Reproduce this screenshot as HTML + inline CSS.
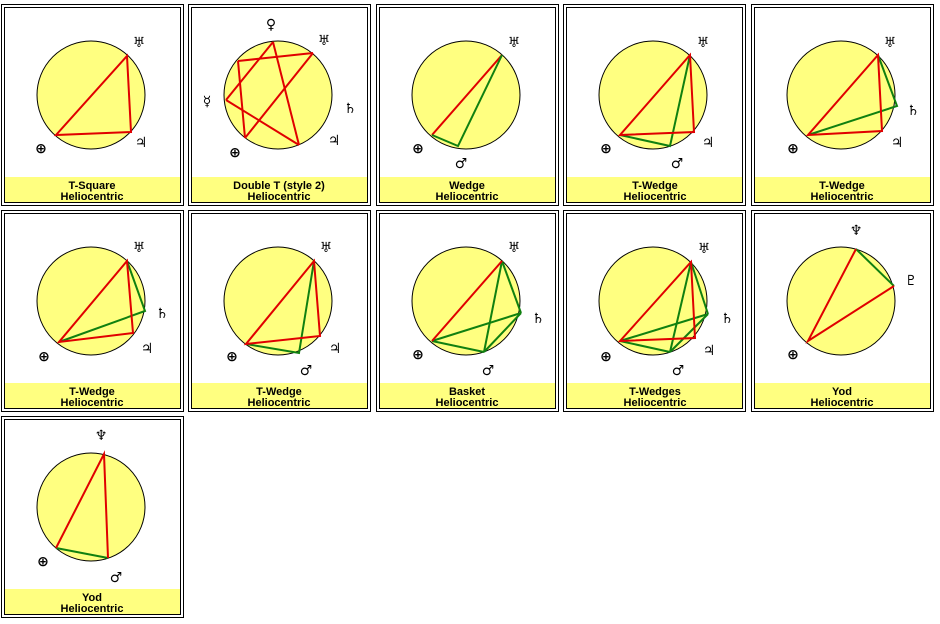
<!DOCTYPE html>
<html><head><meta charset="utf-8"><style>
html,body{margin:0;padding:0;background:#fff;}
svg{display:block;}
text{font-family:"DejaVu Sans","Liberation Sans",sans-serif;font-weight:bold;}
.lab{font-family:"Liberation Sans",sans-serif;font-size:11px;font-weight:bold;text-anchor:middle;fill:#000;}
.sym{font-size:14px;text-anchor:middle;fill:#000;}
.r{stroke:#e00000;stroke-width:2;fill:none;}
.g{stroke:#108010;stroke-width:2;fill:none;}
</style></head><body>
<svg width="940" height="624" viewBox="0 0 940 624" xmlns="http://www.w3.org/2000/svg">
<defs>
<g id="card">
<rect x="0.5" y="0.5" width="182" height="201" fill="#fff" stroke="#000" stroke-width="1"/>
<rect x="3.5" y="3.5" width="176" height="195" fill="#fff" stroke="#000" stroke-width="1"/>
<rect x="4" y="173" width="175" height="25" fill="#ffff80"/>
<circle cx="90" cy="91" r="54" fill="#ffff80" stroke="#000" stroke-width="1"/>
</g>
</defs>
<use href="#card" x="1" y="4"/><use href="#card" x="188" y="4"/><use href="#card" x="376" y="4"/><use href="#card" x="563" y="4"/><use href="#card" x="751" y="4"/>
<use href="#card" x="1" y="210"/><use href="#card" x="188" y="210"/><use href="#card" x="376" y="210"/><use href="#card" x="563" y="210"/><use href="#card" x="751" y="210"/>
<use href="#card" x="1" y="416"/>

<text class="lab" x="92" y="189">T-Square</text><text class="lab" x="92" y="200">Heliocentric</text>
<text class="lab" x="279" y="189">Double T  (style 2)</text><text class="lab" x="279" y="200">Heliocentric</text>
<text class="lab" x="467" y="189">Wedge</text><text class="lab" x="467" y="200">Heliocentric</text>
<text class="lab" x="655" y="189">T-Wedge</text><text class="lab" x="655" y="200">Heliocentric</text>
<text class="lab" x="842" y="189">T-Wedge</text><text class="lab" x="842" y="200">Heliocentric</text>
<text class="lab" x="92" y="395">T-Wedge</text><text class="lab" x="92" y="406">Heliocentric</text>
<text class="lab" x="279" y="395">T-Wedge</text><text class="lab" x="279" y="406">Heliocentric</text>
<text class="lab" x="467" y="395">Basket</text><text class="lab" x="467" y="406">Heliocentric</text>
<text class="lab" x="655" y="395">T-Wedges</text><text class="lab" x="655" y="406">Heliocentric</text>
<text class="lab" x="842" y="395">Yod</text><text class="lab" x="842" y="406">Heliocentric</text>
<text class="lab" x="92" y="601">Yod</text><text class="lab" x="92" y="612">Heliocentric</text>

<polygon class="r" points="127,56 131,132 56,135"/>
<text class="sym" x="139" y="47">♅</text><text class="sym" x="141" y="147">♃</text><text class="sym" x="41" y="153">⊕</text>

<g class="r">
<line x1="273" y1="42" x2="226" y2="100"/><line x1="273" y1="42" x2="299" y2="145"/>
<line x1="238" y1="61" x2="313" y2="53"/><line x1="313" y1="53" x2="245" y2="138"/>
<line x1="238" y1="61" x2="245" y2="138"/><line x1="226" y1="100" x2="299" y2="145"/>
</g>
<text class="sym" x="271" y="29">♀</text><text class="sym" x="324" y="45">♅</text><text class="sym" x="207" y="106">☿</text><text class="sym" x="350" y="113">♄</text><text class="sym" x="334" y="145">♃</text><text class="sym" x="235" y="157">⊕</text>

<line class="r" x1="502" y1="55" x2="432" y2="135"/>
<polyline class="g" points="502,55 458,146 432,135"/>
<text class="sym" x="514" y="47">♅</text><text class="sym" x="461" y="168">♂</text><text class="sym" x="418" y="153">⊕</text>

<polyline class="g" points="690,55 670,146 620,135"/>
<polygon class="r" points="690,55 694,132 620,135"/>
<text class="sym" x="703" y="47">♅</text><text class="sym" x="708" y="147">♃</text><text class="sym" x="677" y="168">♂</text><text class="sym" x="606" y="153">⊕</text>

<polyline class="g" points="878,55 897,106 808,135"/>
<polygon class="r" points="878,55 882,131 808,135"/>
<text class="sym" x="890" y="47">♅</text><text class="sym" x="913" y="115">♄</text><text class="sym" x="897" y="147">♃</text><text class="sym" x="793" y="153">⊕</text>

<polyline class="g" points="127,261 145,311 59,342"/>
<polygon class="r" points="127,261 133,333 59,342"/>
<text class="sym" x="139" y="252">♅</text><text class="sym" x="162" y="318">♄</text><text class="sym" x="147" y="353">♃</text><text class="sym" x="44" y="361">⊕</text>

<polyline class="g" points="314,261 299,353 246,344"/>
<polygon class="r" points="314,261 320,336 246,344"/>
<text class="sym" x="326" y="252">♅</text><text class="sym" x="335" y="353">♃</text><text class="sym" x="306" y="375">♂</text><text class="sym" x="232" y="361">⊕</text>

<g class="g">
<line x1="502" y1="261" x2="521" y2="313"/><line x1="502" y1="261" x2="484" y2="352"/>
<line x1="521" y1="313" x2="432" y2="341"/><line x1="521" y1="313" x2="484" y2="352"/>
<line x1="432" y1="341" x2="484" y2="352"/>
</g>
<line class="r" x1="502" y1="261" x2="432" y2="341"/>
<text class="sym" x="514" y="252">♅</text><text class="sym" x="538" y="323">♄</text><text class="sym" x="488" y="375">♂</text><text class="sym" x="418" y="359">⊕</text>

<g class="g">
<line x1="691" y1="262" x2="708" y2="314"/><line x1="691" y1="262" x2="670" y2="352"/>
<line x1="708" y1="314" x2="620" y2="341"/><line x1="708" y1="314" x2="670" y2="352"/>
<line x1="620" y1="341" x2="670" y2="352"/>
</g>
<polygon class="r" points="691,262 695,338 620,341"/>
<text class="sym" x="704" y="253">♅</text><text class="sym" x="727" y="323">♄</text><text class="sym" x="709" y="355">♃</text><text class="sym" x="678" y="375">♂</text><text class="sym" x="606" y="361">⊕</text>

<line class="g" x1="856" y1="249" x2="894" y2="286"/>
<polyline class="r" points="856,249 808,341 894,286"/>
<text class="sym" x="856" y="235">♆</text><text class="sym" x="911" y="285">♇</text><text class="sym" x="793" y="359">⊕</text>

<line class="g" x1="56" y1="548" x2="108" y2="558"/>
<polyline class="r" points="56,548 104,454 108,558"/>
<text class="sym" x="101" y="440">♆</text><text class="sym" x="116" y="582">♂</text><text class="sym" x="43" y="566">⊕</text>
</svg>
</body></html>
